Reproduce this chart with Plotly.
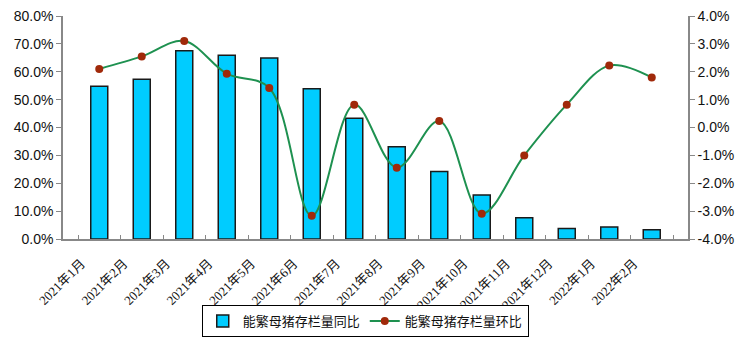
import plotly.graph_objects as go

categories = ["2021年1月", "2021年2月", "2021年3月", "2021年4月", "2021年5月", "2021年6月",
              "2021年7月", "2021年8月", "2021年9月", "2021年10月", "2021年11月", "2021年12月",
              "2022年1月", "2022年2月"]
yoy = [54.8, 57.3, 67.5, 65.9, 64.9, 53.9, 43.3, 33.1, 24.2, 15.8, 7.6, 3.8, 4.3, 3.3]
mom = [2.1, 2.55, 3.1, 1.93, 1.42, -3.17, 0.82, -1.44, 0.23, -3.09, -1.0, 0.82, 2.22, 1.79]
left_ticks = [0, 10, 20, 30, 40, 50, 60, 70, 80]
right_ticks = [-4, -3, -2, -1, 0, 1, 2, 3, 4]

font_family = "Liberation Sans, Arial, Noto Sans CJK SC, sans-serif"
serif_family = "Liberation Serif, Times New Roman, Noto Sans CJK SC, serif"

fig = go.Figure()
fig.add_trace(go.Bar(
    x=categories, y=yoy, name="能繁母猪存栏量同比",
    marker=dict(color="#00CCFF", line=dict(color="#1a1a1a", width=1.5)),
    yaxis="y",
))
fig.add_trace(go.Scatter(
    x=categories, y=mom, name="能繁母猪存栏量环比",
    mode="lines+markers",
    line=dict(color="#1E9150", width=2, shape="spline", smoothing=1.0),
    marker=dict(color="#A0290A", size=8),
    yaxis="y2",
))

fig.update_layout(
    width=750, height=338,
    margin=dict(l=63, r=62, t=16, b=99),
    paper_bgcolor="white", plot_bgcolor="white",
    font=dict(family=font_family, size=14, color="#111"),
    bargap=0.6,
    showlegend=True,
    legend=dict(orientation="h", x=0.487, xanchor="center", xref="container",
                y=0.003, yanchor="bottom", yref="container",
                bordercolor="#000", borderwidth=1,
                font=dict(size=13, family=serif_family),
                itemwidth=30, tracegroupgap=0),
    xaxis=dict(
        type="category", showline=True, linecolor="#888", linewidth=1.5,
        ticks="inside", tickson="boundaries", ticklen=4, tickcolor="#888",
        tickangle=-45, tickfont=dict(size=13, family=serif_family), showgrid=False,
        ticklabelshift=-18, ticklabelstandoff=10,
        automargin=False,
    ),
    yaxis=dict(
        range=[0, 80], tickvals=left_ticks, ticktext=[f"{v:.1f}%" for v in left_ticks],
        showline=True, linecolor="#888", linewidth=1.5,
        ticks="outside", ticklen=5, tickcolor="#888",
        showgrid=False, zeroline=False, tickfont=dict(size=14), automargin=False,
    ),
    yaxis2=dict(
        range=[-4, 4], tickvals=right_ticks, ticktext=[f"{v:.1f}%" for v in right_ticks],
        overlaying="y", side="right",
        showline=True, linecolor="#888", linewidth=1.5,
        ticks="outside", ticklen=5, tickcolor="#888",
        showgrid=False, zeroline=False, tickfont=dict(size=14), automargin=False,
    ),
)

fig.write_html("out.html")
